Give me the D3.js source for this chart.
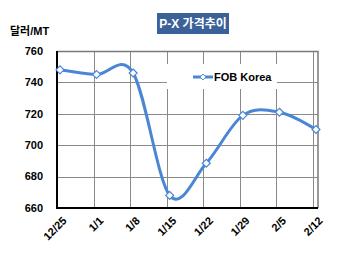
<!DOCTYPE html>
<html>
<head>
<meta charset="utf-8">
<script src="https://cdn.jsdelivr.net/npm/d3@7"></script>
<style>
  body { margin: 0; background: #fff; }
  svg text { font-family: "Liberation Sans", Arial, "Noto Sans CJK KR", sans-serif; font-weight: bold; }
</style>
</head>
<body>
<svg width="350" height="258"></svg>
<script>
// data
const dates = ["12/25", "1/1", "1/8", "1/15", "1/22", "1/29", "2/5", "2/12"];
const fobKorea = [748, 745, 746, 668, 688.5, 719, 721, 710];
const yTicks = [660, 680, 700, 720, 740, 760];
const seriesName = "FOB Korea";
const chartTitle = "P-X 가격추이";
const unitLabel = "달러/MT";

let svg = d3.select("svg");

let plotL = 57, plotR = 318, plotT = 51, plotB = 208;

let x = d3.scalePoint()
    .domain(dates)
    .range([60, 316]);

let y = d3.scaleLinear()
    .domain([660, 760])
    .range([plotB, plotT]);

// grid
let grid = svg.append("g").attr("stroke", "#8a8a8a").attr("stroke-width", 1);

grid.selectAll(".hg")
  .data(yTicks.filter(d => d > 660))
  .enter().append("line")
    .attr("x1", plotL).attr("x2", plotR)
    .attr("y1", d => Math.round(y(d)) + 0.5)
    .attr("y2", d => Math.round(y(d)) + 0.5);

grid.selectAll(".vg")
  .data(dates.slice(1))
  .enter().append("line")
    .attr("x1", d => Math.round(x(d) - 3) + 0.5)
    .attr("x2", d => Math.round(x(d) - 3) + 0.5)
    .attr("y1", plotT).attr("y2", plotB);

// plot border (top / right)
svg.append("path")
    .attr("d", `M${plotL},${plotT + 0.5}H${plotR}V${plotB}`)
    .attr("fill", "none")
    .attr("stroke", "#7a7a7a")
    .attr("stroke-width", 1.5);

// axes
svg.append("path")
    .attr("d", `M${plotL},${plotT}V${plotB}H${plotR}`)
    .attr("fill", "none")
    .attr("stroke", "#000")
    .attr("stroke-width", 2);

svg.selectAll(".ylab")
  .data(yTicks)
  .enter().append("text")
    .attr("x", 43)
    .attr("y", d => y(d))
    .attr("dy", "0.35em")
    .attr("text-anchor", "end")
    .attr("font-size", 11)
    .text(d => d);

svg.selectAll(".xlab")
  .data(dates)
  .enter().append("text")
    .attr("text-anchor", "end")
    .attr("font-size", 11)
    .attr("transform", d => `translate(${x(d) + 2},${plotB + 8}) rotate(-45)`)
    .attr("dy", "0.7em")
    .text(d => d);

// legend box
svg.append("rect")
    .attr("x", 167).attr("y", 64)
    .attr("width", 110).attr("height", 25)
    .attr("fill", "#fff");

// series
let line = d3.line()
    .x((d, i) => x(dates[i]))
    .y(d => y(d))
    .curve(d3.curveCardinal.tension(0));

svg.append("path")
    .datum(fobKorea)
    .attr("fill", "none")
    .attr("stroke", "#4a86d6")
    .attr("stroke-width", 3)
    .attr("d", line);

let diamond = d3.symbol().type(d3.symbolDiamond2).size(40);

svg.selectAll(".pt")
  .data(fobKorea)
  .enter().append("path")
    .attr("d", diamond)
    .attr("transform", (d, i) => `translate(${x(dates[i])},${y(d)})`)
    .attr("fill", "#fff")
    .attr("stroke", "#4a86d6")
    .attr("stroke-width", 1.2);

// legend
svg.append("line")
    .attr("x1", 193).attr("x2", 213)
    .attr("y1", 77).attr("y2", 77)
    .attr("stroke", "#4a86d6").attr("stroke-width", 3);
svg.append("path")
    .attr("d", d3.symbol().type(d3.symbolDiamond2).size(22))
    .attr("transform", "translate(203,77)")
    .attr("fill", "#fff").attr("stroke", "#4a86d6").attr("stroke-width", 1);
svg.append("text")
    .attr("x", 214).attr("y", 77)
    .attr("dy", "0.35em")
    .attr("font-size", 11)
    .text(seriesName);

// title
svg.append("rect")
    .attr("x", 157).attr("y", 13)
    .attr("width", 72).attr("height", 21)
    .attr("fill", "#3a6298");
svg.append("text")
    .attr("x", 193).attr("y", 24)
    .attr("dy", "0.35em")
    .attr("text-anchor", "middle")
    .attr("font-size", 12)
    .attr("fill", "#fff")
    .text(chartTitle);

svg.append("text")
    .attr("x", 10).attr("y", 31)
    .attr("dy", "0.35em")
    .attr("font-size", 11)
    .text(unitLabel);
</script>
</body>
</html>
